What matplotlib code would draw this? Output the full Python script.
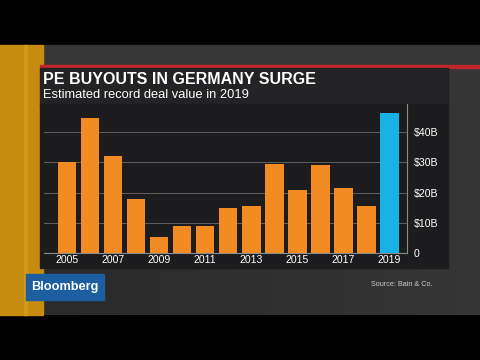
import numpy as np
import matplotlib.pyplot as plt
from matplotlib.patches import Rectangle

# datos (miles de millones de dolares)
years = list(range(2005, 2020))
values = [30.0, 44.6, 32.2, 17.9, 5.4, 8.9, 8.9, 14.8, 15.7, 29.5, 20.9, 29.1, 21.5, 15.6, 46.3]
tick_years = [2005, 2007, 2009, 2011, 2013, 2015, 2017, 2019]
y_ticks = [0, 10, 20, 30, 40]
y_labels = ['0', '$10B', '$20B', '$30B', '$40B']

title = 'PE BUYOUTS IN GERMANY SURGE'
subtitle = 'Estimated record deal value in 2019'
source = 'Source: Bain & Co.'

orange = '#f28c22'
blue = '#19b2e6'

plt.rcParams['font.family'] = ['Liberation Sans', 'DejaVu Sans']

fig = plt.figure(figsize=(4.8, 3.6), dpi=100)
fig.patch.set_facecolor('black')

# fondo en coordenadas de pixel
bg = fig.add_axes([0, 0, 1, 1])
bg.set_xlim(0, 480)
bg.set_ylim(360, 0)
bg.axis('off')

grad = np.linspace(0.16, 0.21, 256).reshape(1, -1)
bg.imshow(np.dstack([grad, grad, grad]), extent=(0, 480, 315, 45), aspect='auto', zorder=0)
bg.add_patch(Rectangle((43, 45), 437, 21, color='#363636', zorder=1))
bg.add_patch(Rectangle((0, 45), 43, 270, color='#c68c10', zorder=2))
bg.add_patch(Rectangle((24, 45), 3, 270, color='#d39a18', zorder=2))
bg.add_patch(Rectangle((40, 65), 440, 2.5, color='#c0262c', zorder=3))
bg.add_patch(Rectangle((40, 67.5), 408, 37, color='#232325', zorder=3))
bg.add_patch(Rectangle((40, 104), 408, 164, color='#1c1c1e', zorder=3))
bg.add_patch(Rectangle((26, 274), 78, 26, color='#1c5ea0', zorder=4))

bg.text(43, 83.5, title, color='white', fontsize=11.5, fontweight='bold', va='baseline', zorder=5)
bg.text(43, 98.5, subtitle, color='white', fontsize=9.3, va='baseline', zorder=5)
bg.text(65, 287, 'Bloomberg', color='white', fontsize=9.2, fontweight='semibold', ha='center', va='center', zorder=5)
bg.text(371, 285, source, color='#cccccc', fontsize=5.2, va='center', zorder=5)

# grafica de barras
ax = fig.add_axes([44 / 480, (360 - 253) / 360, (407 - 44) / 480, (253 - 104) / 360])
ax.set_facecolor('#1c1c1e')
colors = [orange] * (len(years) - 1) + [blue]
ax.bar(years, values, width=0.8, color=colors, zorder=3)
ax.set_xlim(2004.0, 2019.76)
ax.set_ylim(0, 49.3)
ax.yaxis.tick_right()
ax.set_yticks(y_ticks)
ax.set_yticklabels(y_labels)
ax.set_xticks(tick_years)
ax.set_xticklabels([str(y) for y in tick_years])
ax.tick_params(colors='white', labelsize=7.6, length=0, pad=1.5)
ax.tick_params(axis='y', pad=5)
ax.grid(axis='y', color='#6a6a6a', linewidth=0.6, zorder=1)
for s in ['top', 'left']:
    ax.spines[s].set_visible(False)
ax.spines['right'].set_color('#8a8a8a')
ax.spines['bottom'].set_color('#8a8a8a')

fig.savefig('out.png', dpi=100, facecolor='black')
